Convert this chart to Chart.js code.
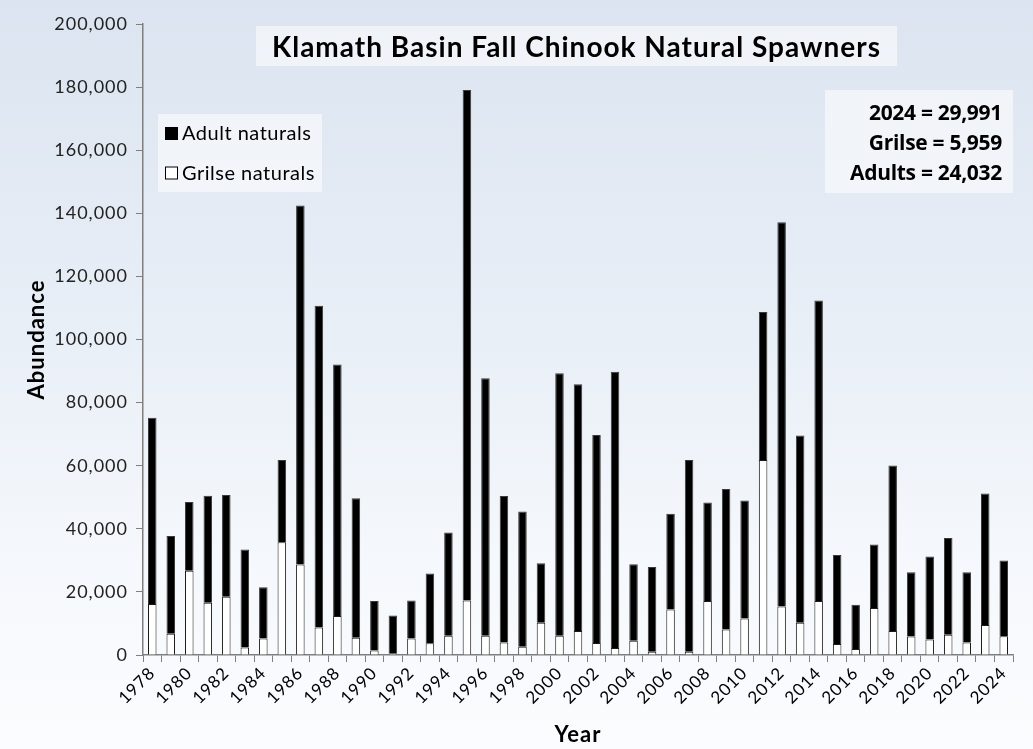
<!DOCTYPE html>
<html>
<head>
<meta charset="utf-8">
<title>Klamath Basin Fall Chinook Natural Spawners</title>
<script src="https://cdn.jsdelivr.net/npm/chart.js@4.4.1/dist/chart.umd.min.js"></script>
<style>
  html, body { margin: 0; padding: 0; }
  body {
    width: 1033px; height: 749px; overflow: hidden; position: relative;
    background: linear-gradient(to bottom, #dbe4f0 0%, #e9eff7 45%, #f5f8fc 75%, #fbfcfe 100%);
  }
  #wrap { position: absolute; left: 0; top: 0; width: 1033px; height: 749px; }
  .title-box {
    position: absolute; left: 256px; top: 26px; width: 641px; height: 40px;
    background: rgba(255,255,255,0.55);
    font: 700 28px Lato, "DejaVu Sans", sans-serif; color: #000;
    letter-spacing: 1px;
    text-align: center; line-height: 40px;
  }
  .note-box {
    position: absolute; left: 825px; top: 90px; width: 188px; height: 103px;
    background: rgba(255,255,255,0.55);
    font: 700 21px "Open Sans", Lato, sans-serif; color: #000;
    letter-spacing: -0.3px;
    text-align: right; box-sizing: border-box; padding: 7px 11px 0 0;
    line-height: 30px;
  }
</style>
</head>
<body>
<div id="wrap"><canvas id="chart" width="1033" height="749"></canvas></div>
<div class="title-box">Klamath Basin Fall Chinook Natural Spawners</div>
<div class="note-box" id="note"></div>
<script>
// years on the category axis
const years = [];
for (let y = 1978; y <= 2024; y++) years.push(String(y));

// grilse natural spawners (bottom of each bar)
const grilse = [
  16200, 6700, 26700, 16600, 18500, 2400, 5200, 35700, 28700, 8700,
  12400, 5500, 1400, 400, 5200, 3700, 6100, 17300, 6100, 4000,
  2600, 10200, 6100, 7600, 3800, 2200, 4500, 1000, 14400, 1000,
  17100, 8100, 11600, 61800, 15400, 10200, 17100, 3500, 1900, 14900,
  7600, 5900, 4900, 6400, 4000, 9500, 5959
];

// adult natural spawners (stacked on top)
const adults = [
  59000, 31000, 21800, 33900, 32200, 31000, 16300, 26100, 113800, 102000,
  79700, 44200, 15700, 12100, 12100, 22100, 32700, 161800, 81600, 46400,
  42900, 18900, 83200, 78200, 65900, 87600, 24300, 26900, 30400, 60800,
  31200, 44500, 37400, 46900, 121800, 59400, 95300, 28200, 14000, 20100,
  52500, 20300, 26300, 30700, 22200, 41700, 24032
];

const yTicks = [0, 20000, 40000, 60000, 80000, 100000, 120000, 140000, 160000, 180000, 200000];

// latest-year summary lines
const last = years.length - 1;
const fmt = n => n.toLocaleString('en-US');
document.getElementById('note').innerHTML =
  years[last] + ' = ' + fmt(grilse[last] + adults[last]) + '<br>' +
  'Grilse = ' + fmt(grilse[last]) + '<br>' +
  'Adults = ' + fmt(adults[last]);

const axisColor = '#7f7f7f';
const family = 'Lato, "DejaVu Sans", sans-serif';

// wider letter spacing for all the axis text (the original font is a wide one)
const spacing = {
  id: 'spacing',
  beforeDraw(chart) { chart.ctx.letterSpacing = '1px'; }
};

// legend drawn inside the plot area, in a pale box
const legendBox = {
  id: 'legendBox',
  afterDraw(chart) {
    const ctx = chart.ctx;
    const items = [chart.data.datasets[1], chart.data.datasets[0]];
    ctx.save();
    ctx.fillStyle = 'rgba(255,255,255,0.55)';
    ctx.fillRect(158, 114, 164, 78);
    items.forEach((ds, i) => {
      const y = 133 + i * 39.5;
      ctx.fillStyle = ds.backgroundColor;
      ctx.fillRect(165, y - 6, 13, 13);
      ctx.strokeStyle = '#000';
      ctx.lineWidth = 1;
      ctx.strokeRect(165.5, y - 5.5, 12, 12);
      ctx.fillStyle = '#000';
      ctx.font = '20px ' + family;
      ctx.letterSpacing = '0.5px';
      ctx.textBaseline = 'middle';
      ctx.fillText(ds.label, 182, y + 1);
    });
    ctx.restore();
  }
};

new Chart(document.getElementById('chart'), {
  type: 'bar',
  data: {
    labels: years,
    datasets: [
      {
        label: 'Grilse naturals',
        data: grilse,
        backgroundColor: '#ffffff',
        borderColor: '#1a1a1a',
        borderWidth: 1,
        barPercentage: 0.46,
        categoryPercentage: 1
      },
      {
        label: 'Adult naturals',
        data: adults,
        backgroundColor: '#000000',
        borderColor: '#3a3a3a',
        borderWidth: 1,
        barPercentage: 0.46,
        categoryPercentage: 1
      }
    ]
  },
  options: {
    responsive: false,
    animation: false,
    layout: { padding: { left: 24, right: 20, top: 24, bottom: 0 } },
    plugins: {
      legend: { display: false },
      tooltip: { enabled: false }
    },
    scales: {
      x: {
        stacked: true,
        afterFit: s => { s.height = 94; },
        grid: { drawOnChartArea: false, drawTicks: true, tickLength: 7, color: axisColor, offset: true },
        border: { color: axisColor, width: 1.5 },
        ticks: {
          autoSkip: false, maxRotation: 45, minRotation: 45,
          color: '#000', font: { family, size: 17 }, padding: 1,
          callback: (v, i) => (i % 2 === 0 ? years[i] : '')
        },
        title: {
          display: true, text: 'Year', color: '#000',
          font: { family, size: 22, weight: 'bold' },
          padding: { top: 0, bottom: 1 }
        }
      },
      y: {
        stacked: true,
        min: 0, max: 200000,
        afterFit: s => { s.width = 119; },
        afterBuildTicks: s => { s.ticks = yTicks.map(v => ({ value: v })); },
        grid: { drawOnChartArea: false, drawTicks: true, tickLength: 7, color: axisColor },
        border: { color: axisColor, width: 1.5 },
        ticks: {
          color: '#222', font: { family, size: 18 }, padding: 8,
          callback: v => fmt(v)
        },
        title: {
          display: true, text: 'Abundance', color: '#000',
          font: { family, size: 22, weight: 'bold' },
          padding: { top: 0, bottom: 0 }
        }
      }
    }
  },
  plugins: [spacing, legendBox]
});
</script>
</body>
</html>
